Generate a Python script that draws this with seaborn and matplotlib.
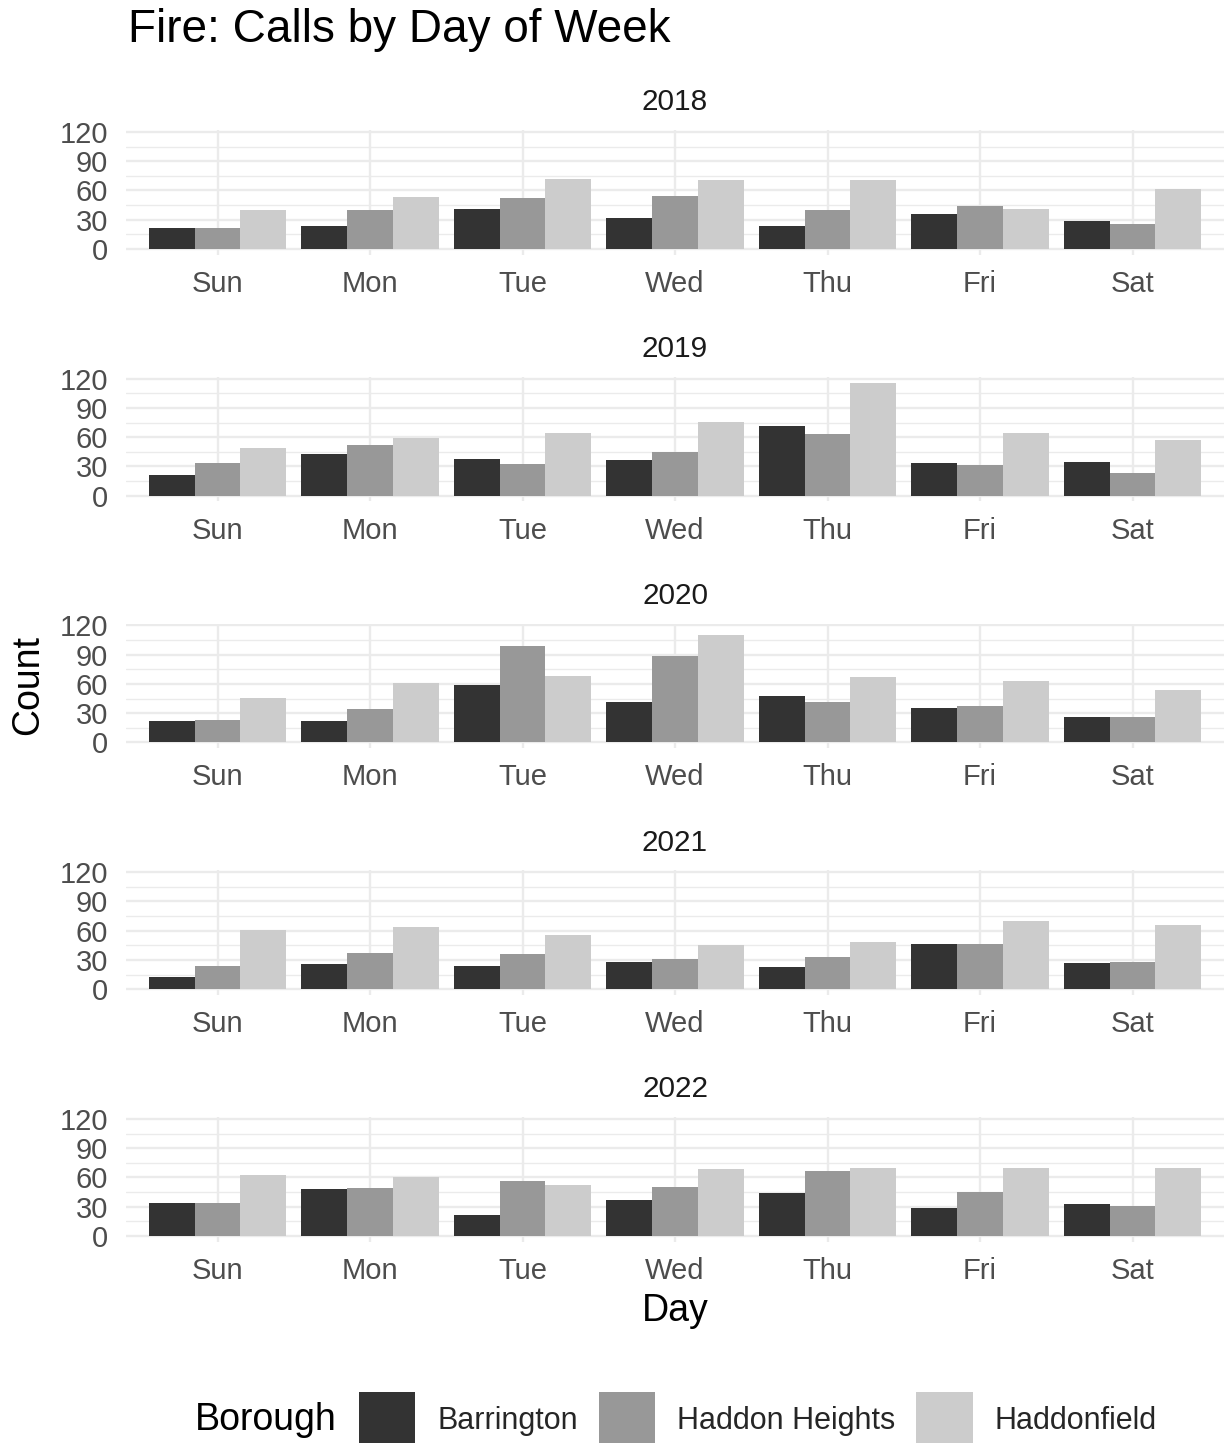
import matplotlib
matplotlib.use('Agg')
import matplotlib.pyplot as plt
from matplotlib.patches import Patch
import pandas as pd
import numpy as np
import seaborn as sns

sns.set_theme(style='white')
plt.rcParams['font.family'] = ['Liberation Sans', 'DejaVu Sans']

# data
days = ['Sun', 'Mon', 'Tue', 'Wed', 'Thu', 'Fri', 'Sat']
years = [2018, 2019, 2020, 2021, 2022]
boroughs = ['Barrington', 'Haddon Heights', 'Haddonfield']

barrington = [[21, 24, 41, 32, 24, 36, 29],
              [21, 43, 38, 37, 71, 34, 35],
              [22, 22, 59, 41, 48, 35, 26],
              [13, 26, 24, 28, 23, 46, 27],
              [34, 48, 21, 37, 44, 29, 33]]
haddon_heights = [[21, 40, 52, 54, 40, 44, 26],
                  [34, 52, 33, 45, 63, 31, 23],
                  [23, 34, 99, 89, 41, 37, 26],
                  [24, 37, 36, 31, 33, 46, 28],
                  [34, 49, 56, 50, 67, 45, 31]]
haddonfield = [[40, 53, 72, 71, 71, 41, 62],
               [49, 59, 64, 76, 116, 64, 57],
               [46, 61, 68, 110, 67, 63, 54],
               [61, 64, 56, 45, 48, 70, 66],
               [63, 60, 52, 69, 70, 70, 70]]

colors = ['#333333', '#989898', '#CCCCCC']  # scale_fill_grey

# long table for seaborn
rows = []
for b, vals in zip(boroughs, [barrington, haddon_heights, haddonfield]):
    for yi, yr in enumerate(years):
        for di, d in enumerate(days):
            rows.append({'Year': yr, 'Day': d, 'Borough': b, 'Count': vals[yi][di]})
df = pd.DataFrame(rows)

W, H = 1231, 1443
fig = plt.figure(figsize=(W / 100, H / 100), dpi=100)

ymax = df['Count'].max()
ylim = (-0.05 * ymax, 1.05 * ymax)
px_per_unit = 117 / 120
ax_h = (ylim[1] - ylim[0]) * px_per_unit
ax_left, ax_w = 126, 1098
grid_c = '#EBEBEB'

for i, yr in enumerate(years):
    top = 130.2 + 246.75 * i
    ax = fig.add_axes([ax_left / W, 1 - (top + ax_h) / H, ax_w / W, ax_h / H])
    sub = df[df['Year'] == yr]
    sns.barplot(data=sub, x='Day', y='Count', hue='Borough', order=days,
                hue_order=boroughs, palette=colors, width=0.9, gap=0,
                saturation=1, errorbar=None, linewidth=0, legend=False, ax=ax)
    ax.set_xlim(-0.6, 6.6)
    ax.set_ylim(*ylim)
    ax.set_yticks([0, 30, 60, 90, 120])
    ax.set_yticks([15, 45, 75, 105], minor=True)
    ax.grid(True, which='major', color=grid_c, linewidth=1.7)
    ax.grid(True, which='minor', axis='y', color=grid_c, linewidth=1.0)
    ax.set_axisbelow(True)
    for s in ax.spines.values():
        s.set_visible(False)
    ax.tick_params(axis='both', which='both', length=0, labelsize=21,
                   labelcolor='#4D4D4D')
    ax.tick_params(axis='x', pad=11)
    ax.tick_params(axis='y', pad=13)
    ax.set_xlabel('')
    ax.set_ylabel('')
    ax.annotate(str(yr), xy=(0.5, 1), xycoords='axes fraction',
                xytext=(0, 20), textcoords='offset points',
                ha='center', va='center', fontsize=21.4, color='#1A1A1A')

fig.text(128 / W, 1 - 42 / H, 'Fire: Calls by Day of Week', fontsize=33,
         ha='left', va='baseline', color='black')
fig.text(28 / W, 1 - 685 / H, 'Count', fontsize=27, rotation=90,
         ha='center', va='center', color='black')
fig.text(675 / W, 1 - 1311 / H, 'Day', fontsize=27,
         ha='center', va='center', color='black')

# legend at the bottom (keys run off the lower edge like the original)
fig.text(195 / W, 1 - 1420 / H, 'Borough', fontsize=27,
         ha='left', va='center', color='black')
handles = [Patch(facecolor=c, edgecolor='none', label=b) for c, b in zip(colors, boroughs)]
fig.legend(handles=handles, loc='center left', bbox_to_anchor=(359 / W, 1 - 1420 / H),
           ncol=3, frameon=False, fontsize=22, handlelength=1.84, handleheight=2.4,
           handletextpad=0.72, columnspacing=0.69, borderpad=0, borderaxespad=0)

fig.savefig('out.png', dpi=100)
